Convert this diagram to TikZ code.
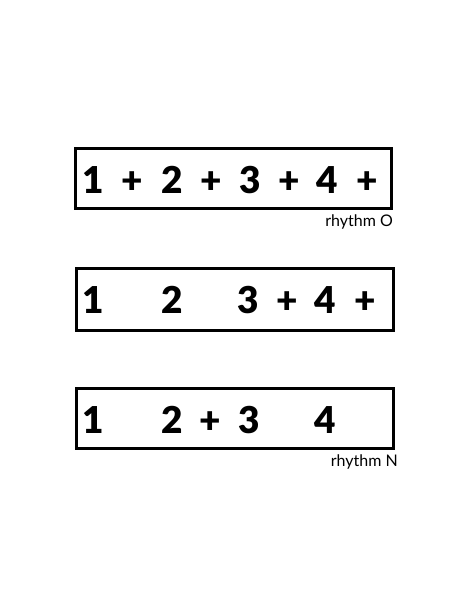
\documentclass[tikz,border=0pt]{standalone}
\usepackage{fontspec}
\setmainfont{Lato}[BoldFont={Lato Black}]
\begin{document}
\begin{tikzpicture}[x=1pt,y=-1pt]
	\tikzstyle{bar} = [draw, line width=3pt, shape=rectangle, minimum height=60pt, inner sep=0pt]
	\tikzstyle{beat} = [font=\fontsize{37}{37}\selectfont\bfseries, inner sep=0pt, anchor=base]
	\tikzstyle{tag} = [font=\fontsize{16}{16}\selectfont, inner sep=0pt, anchor=base east]
	\useasboundingbox (0,0) rectangle (474,613);
	% rhythm O
	\node[bar, minimum width=316pt] (row-o) at (233,178.5) {};
	\node[beat] (o-1) at (93,193) {1};
	\node[beat] (o-1p) at (132,193) {+};
	\node[beat] (o-2) at (172,193) {2};
	\node[beat] (o-2p) at (211,193) {+};
	\node[beat] (o-3) at (250,193) {3};
	\node[beat] (o-3p) at (289,193) {+};
	\node[beat] (o-4) at (327,193) {4};
	\node[beat] (o-4p) at (367,193) {+};
	\node[tag] (tag-o) at (393,226) {rhythm O};
	% middle row
	\node[bar, minimum width=317pt, minimum height=62pt] (row-m) at (235,299) {};
	\node[beat] (m-1) at (93,313) {1};
	\node[beat] (m-2) at (172,313) {2};
	\node[beat] (m-3) at (248,313) {3};
	\node[beat] (m-3p) at (287,313) {+};
	\node[beat] (m-4) at (325,313) {4};
	\node[beat] (m-4p) at (365,313) {+};
	% rhythm N
	\node[bar, minimum width=317pt] (row-n) at (235,418.5) {};
	\node[beat] (n-1) at (93,433) {1};
	\node[beat] (n-2) at (172,433) {2};
	\node[beat] (n-2p) at (210,433) {+};
	\node[beat] (n-3) at (249,433) {3};
	\node[beat] (n-4) at (325,433) {4};
	\node[tag] (tag-n) at (398,466) {rhythm N};
\end{tikzpicture}
\end{document}
